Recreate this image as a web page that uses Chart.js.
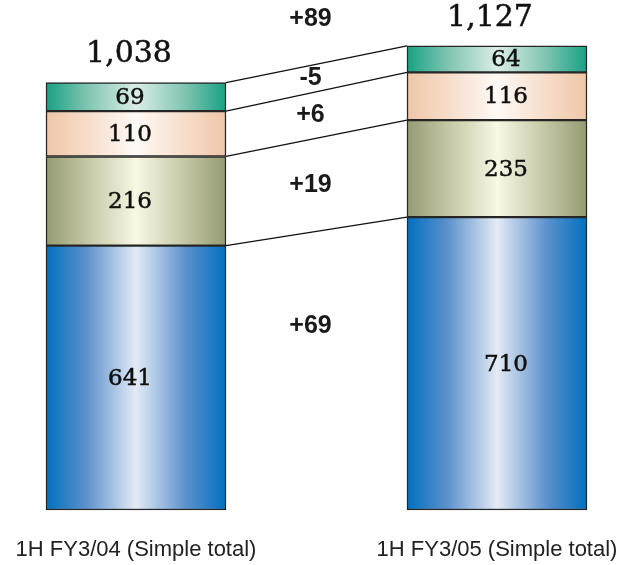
<!DOCTYPE html>
<html><head><meta charset="utf-8">
<script src="https://cdn.jsdelivr.net/npm/chart.js@4/dist/chart.umd.min.js"></script>
<style>html,body{margin:0;padding:0;background:#fff}#wrap{width:620px;height:565px}</style>
</head><body><div id="wrap"><canvas id="c" width="620" height="565"></canvas></div>
<script>
// ---- data ----
const categories = ['1H FY3/04 (Simple total)', '1H FY3/05 (Simple total)'];
const blueValues  = [641, 710];
const oliveValues = [216, 235];
const peachValues = [110, 116];
const tealValues  = [69, 64];
const totalLabels = ['1,038', '1,127'];
const changeLabels = ['+69', '+19', '+6', '-5'];
const totalChangeLabel = '+89';

// ---- style ----
const BAR_W = 180;
const SERIF = '"DejaVu Serif", "Liberation Serif", serif';
const SANS = '"Liberation Sans", Arial, sans-serif';
const segLabelDx = [-6, 9];
const totalLabelDx = [-7, -7];

function grad(edge, q, mid) {
  return (ctx) => {
    const chart = ctx.chart;
    const xs = chart.scales && chart.scales.x;
    if (!chart.chartArea || !xs || ctx.dataIndex === undefined) return edge;
    const cx = xs.getPixelForValue(ctx.dataIndex);
    const g = chart.ctx.createLinearGradient(cx - BAR_W / 2, 0, cx + BAR_W / 2, 0);
    g.addColorStop(0, edge);
    g.addColorStop(0.22, q);
    g.addColorStop(0.5, mid);
    g.addColorStop(0.78, q);
    g.addColorStop(1, edge);
    return g;
  };
}

function ds(data, fill) {
  return {
    data, backgroundColor: fill, borderColor: '#262626', borderWidth: 1.5,
    borderSkipped: false, barThickness: BAR_W, clip: false
  };
}

const overlay = {
  id: 'overlay',
  afterDatasetsDraw(chart) {
    const c = chart.ctx;
    const metas = [0, 1, 2, 3].map(d => chart.getDatasetMeta(d));
    const xs = chart.scales.x;
    const x0 = xs.getPixelForValue(0), x1 = xs.getPixelForValue(1);
    c.save();
    // connectors
    c.strokeStyle = '#111';
    c.lineWidth = 1.3;
    metas.forEach(m => {
      const a = m.data[0], b = m.data[1];
      c.beginPath();
      c.moveTo(x0 + BAR_W / 2, a.y);
      c.lineTo(x1 - BAR_W / 2, b.y);
      c.stroke();
    });
    // segment labels
    c.fillStyle = '#111';
    c.strokeStyle = '#111';
    c.lineWidth = 0.5;
    c.textAlign = 'center';
    c.textBaseline = 'middle';
    c.font = '23px ' + SERIF;
    metas.forEach(m => {
      m.data.forEach((el, i) => {
        const v = chart.data.datasets[m.index].data[i];
        const tx = el.x + segLabelDx[i], ty = (el.y + el.base) / 2 + 1;
        c.fillText(String(v), tx, ty);
        c.strokeText(String(v), tx, ty);
      });
    });
    // totals
    c.font = '30px ' + SERIF;
    const top = metas[3].data;
    top.forEach((el, i) => {
      const tx = el.x + totalLabelDx[i], ty = el.y - 28;
      c.fillText(totalLabels[i], tx, ty);
      c.strokeText(totalLabels[i], tx, ty);
    });
    // change labels
    c.font = 'bold 25px ' + SANS;
    c.fillStyle = '#1a1a1a';
    const mx = (x0 + x1) / 2 - 6;
    metas.forEach((m, k) => {
      const ya = (m.data[0].y + m.data[0].base) / 2;
      const yb = (m.data[1].y + m.data[1].base) / 2;
      let y = (ya + yb) / 2;
      if (k === 0) y -= 45;
      c.fillText(changeLabels[k], mx, y);
    });
    c.fillText(totalChangeLabel, mx, (top[0].y + top[1].y) / 2 - 45);
    c.restore();
  }
};

new Chart(document.getElementById('c'), {
  type: 'bar',
  data: {
    labels: categories,
    datasets: [
      ds(blueValues,  grad('#0070bf', '#5a90cc', '#e4ebf5')),
      ds(oliveValues, grad('#959b73', '#c2c5a2', '#f8f8e4')),
      ds(peachValues, grad('#efc6a7', '#f6dcc8', '#fffaf6')),
      ds(tealValues,  grad('#17a283', '#7cc3b0', '#dbede7'))
    ]
  },
  options: {
    responsive: false,
    animation: false,
    layout: { padding: { top: 15, left: 136, right: 123, bottom: 0 } },
    plugins: { legend: { display: false }, tooltip: { enabled: false } },
    scales: {
      x: {
        stacked: true, offset: false,
        grid: { display: false, drawTicks: false }, border: { display: false },
        ticks: { autoSkip: false, maxRotation: 0, padding: 27, color: '#222', font: { family: SANS, size: 22 } },
        afterFit: (s) => { s.paddingLeft = 0; s.paddingRight = 0; s.height = 55; }
      },
      y: { stacked: true, display: false, min: 0, max: 1200 }
    }
  },
  plugins: [overlay]
});
</script>
</body></html>
